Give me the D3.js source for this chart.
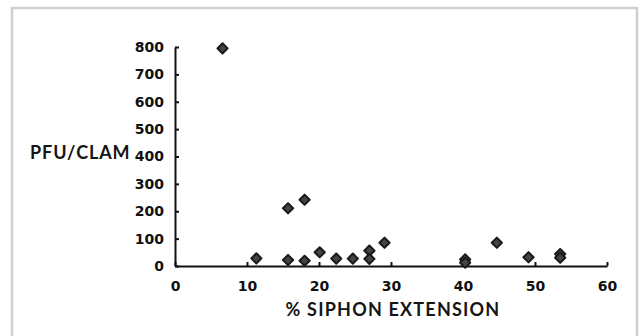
<!doctype html>
<html>
<head>
<meta charset="utf-8">
<script src="https://cdn.jsdelivr.net/npm/d3@7"></script>
<style>
  body { margin: 0; background: #fff; }
  .axis path, .axis line { stroke: #111; stroke-width: 2; }
  .lbl { font-family: Lato, sans-serif; font-weight: bold; fill: #151515; }
</style>
</head>
<body>
<script>
// % siphon extension vs PFU per clam
var siphon = [6.6, 11.3, 15.7, 15.7, 18.0, 18.0, 20.1, 22.4, 24.7, 27.0, 27.0, 29.1, 40.3, 40.3, 44.7, 49.1, 53.5, 53.5];
var pfu    = [795, 28, 211, 22, 242, 19, 50, 27, 27, 56, 26, 85, 24, 12, 85, 32, 44, 30];
var xTicks = [0, 10, 20, 30, 40, 50, 60];
var yTicks = [0, 100, 200, 300, 400, 500, 600, 700, 800];

var width = 644, height = 336;

var svg = d3.select("body").append("svg")
    .attr("width", width)
    .attr("height", height);

// frame around the figure
svg.append("rect")
    .attr("x", 12).attr("y", 8)
    .attr("width", 625).attr("height", 340)
    .attr("fill", "none")
    .attr("stroke", "#cfcfcf")
    .attr("stroke-width", 2.5);

var x = d3.scaleLinear().domain([0, 60]).range([175, 607]);
var y = d3.scaleLinear().domain([0, 800]).range([266, 47]);

// axes
var xAxis = svg.append("g")
    .attr("class", "axis")
    .attr("transform", "translate(0,266)")
    .call(d3.axisBottom(x).tickValues(xTicks).tickSizeInner(-4).tickSizeOuter(0).tickPadding(15));

var yAxis = svg.append("g")
    .attr("class", "axis")
    .attr("transform", "translate(175,0)")
    .call(d3.axisLeft(y).tickValues(yTicks).tickSizeInner(-4).tickSizeOuter(0).tickPadding(11));

svg.selectAll(".axis text")
    .style("font-family", "'DejaVu Sans', sans-serif")
    .style("font-weight", "bold")
    .style("font-size", "14px")
    .style("fill", "#111");

// points
var pts = siphon.map(function(d, i) { return {x: d, y: pfu[i]}; });
svg.selectAll(".pt")
    .data(pts)
  .enter().append("path")
    .attr("class", "pt")
    .attr("d", d3.symbol().type(d3.symbolSquare).size(52))
    .attr("transform", function(d) { return "translate(" + x(d.x) + "," + y(d.y) + ") rotate(45)"; })
    .attr("fill", "#444")
    .attr("stroke", "#1a1a1a")
    .attr("stroke-width", 2)
    .attr("stroke-linejoin", "round");

// axis titles
svg.append("text")
    .attr("class", "lbl")
    .attr("x", 30).attr("y", 159)
    .style("font-size", "18px")
    .style("letter-spacing", "0.9px")
    .text("PFU/CLAM");

svg.append("text")
    .attr("class", "lbl")
    .attr("x", 393).attr("y", 316)
    .attr("text-anchor", "middle")
    .style("font-size", "18px")
    .style("letter-spacing", "1.2px")
    .text("% SIPHON EXTENSION");
</script>
</body>
</html>
